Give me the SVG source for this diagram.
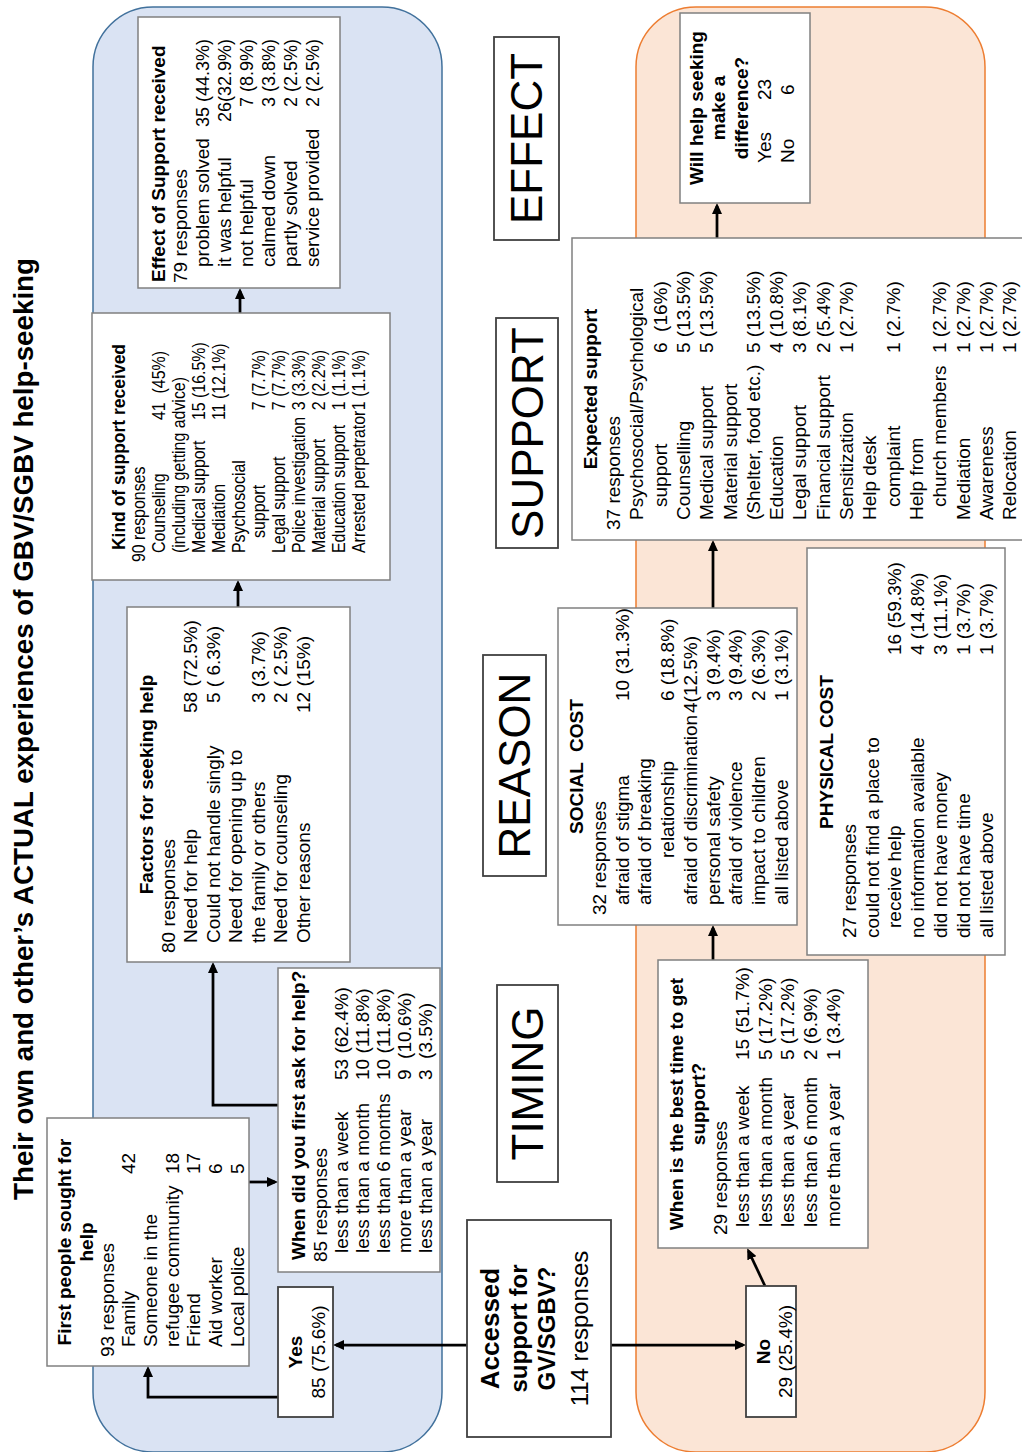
<svg xmlns="http://www.w3.org/2000/svg" width="1022" height="1452" viewBox="0 0 1022 1452">
<style>
  text { font-family: "Liberation Sans", Arial, sans-serif; fill: #000; }
  .t { font-size: 19px; }
  .s { font-size: 17.5px; }
  .sb { font-size: 17.5px; font-weight: bold; }
  .v18 { font-size: 18px; text-anchor: end; }
  .b { font-weight: bold; }
  .c { text-anchor: middle; }
  .box { fill: #fff; stroke: #808080; stroke-width: 1.5; }
  .dbox { fill: #fff; stroke: #404040; stroke-width: 1.8; }
  .lbl { font-size: 44px; text-anchor: middle; }
  .con { fill: none; stroke: #000; stroke-width: 2.75; marker-end: url(#ah); }
</style>
<defs>
  <marker id="ah" markerUnits="userSpaceOnUse" markerWidth="12" markerHeight="10" refX="8" refY="5" orient="auto">
    <path d="M0,0 L11,5 L0,10 z" fill="#000"/>
  </marker>
</defs>
<rect width="1022" height="1452" fill="#fff"/>
<!-- whole chart is laid out landscape and turned a quarter turn -->
<g transform="translate(0,1452) rotate(-90)">
  <!-- panels -->
  <rect id="panel-accessed" x="0" y="93" width="1445" height="349" rx="60" fill="#dae3f3" stroke="#41719c" stroke-width="1.5"/>
  <rect id="panel-not-accessed" x="0" y="636" width="1445" height="349" rx="60" fill="#fbe5d6" stroke="#ed7d31" stroke-width="1.5"/>

  <text x="252" y="33" font-size="27.5" font-weight="bold" textLength="942" lengthAdjust="spacingAndGlyphs">Their own and other’s ACTUAL experiences of GBV/SGBV help-seeking</text>

  <!-- stage labels -->
  <g id="lbl-timing"><rect x="270" y="497" width="197" height="61" class="dbox"/><text x="368.5" y="543" class="lbl">TIMING</text></g>
  <g id="lbl-reason"><rect x="576" y="483" width="221" height="63" class="dbox"/><text x="686.5" y="530" class="lbl">REASON</text></g>
  <g id="lbl-support"><rect x="904" y="496" width="230" height="62" class="dbox"/><text x="1019" y="543" class="lbl">SUPPORT</text></g>
  <g id="lbl-effect"><rect x="1212" y="494" width="203" height="65" class="dbox"/><text x="1313.5" y="542" class="lbl">EFFECT</text></g>

  <!-- connectors -->
  <g id="connectors">
    <path class="con" d="M107,467 L107,336"/>
    <path class="con" d="M107,611 L107,743"/>
    <path class="con" d="M55,278 L55,148 L83,148"/>
    <path class="con" d="M270,249 L270,275"/>
    <path class="con" d="M347,278 L347,213 L487,213"/>
    <path class="con" d="M845,238 L869,238"/>
    <path class="con" d="M1139,240 L1161,240"/>
    <path class="con" d="M166,765 L201,748.5"/>
    <path class="con" d="M492,713 L524,713"/>
    <path class="con" d="M844,713 L909,713"/>
    <path class="con" d="M1214,717 L1246,717"/>
  </g>

  <g id="accessed">
    <rect x="15" y="467" width="217" height="144" class="dbox"/>
    <text class="b c" font-size="26"><tspan x="123.5" y="499">Accessed</tspan></text>
    <text class="b c" font-size="24"><tspan x="123.5" y="527">support for</tspan><tspan x="123.5" y="555">GV/SGBV?</tspan></text>
    <text class="c" font-size="24"><tspan x="123.5" y="588">114 responses</tspan></text>
  </g>

  <g id="yes">
    <rect x="35" y="278" width="130" height="55" class="dbox"/>
    <text class="t c"><tspan x="100" y="302" font-weight="bold">Yes</tspan><tspan x="100" y="325">85 (75.6%)</tspan></text>
  </g>

  <g id="no">
    <rect x="35" y="746" width="131" height="50" class="dbox"/>
    <text class="t c"><tspan x="100.5" y="770" font-weight="bold">No</tspan><tspan x="100.5" y="792">29 (25.4%)</tspan></text>
  </g>

  <g id="first-people">
    <rect x="86" y="47" width="248" height="202" class="box"/>
    <text class="t b c"><tspan x="210" y="71">First people sought for</tspan><tspan x="210" y="93">help</tspan></text>
    <text class="t">
      <tspan x="95" y="114">93 responses</tspan>
      <tspan x="105" y="135">Family</tspan><tspan x="278" y="135">42</tspan>
      <tspan x="105" y="157">Someone in the</tspan>
      <tspan x="105" y="179">refugee community</tspan><tspan x="278" y="179">18</tspan>
      <tspan x="105" y="200">Friend</tspan><tspan x="278" y="200">17</tspan>
      <tspan x="105" y="222">Aid worker</tspan><tspan x="278" y="222">6</tspan>
      <tspan x="105" y="244">Local police</tspan><tspan x="278" y="244">5</tspan>
    </text>
  </g>

  <g id="first-ask">
    <rect x="180" y="278" width="304" height="162" class="box"/>
    <text class="t b"><tspan x="192" y="305">When did you first ask for help?</tspan></text>
    <text class="t" xml:space="preserve"><tspan x="190" y="327">85 responses</tspan><tspan x="199" y="348">less than a week</tspan><tspan x="372" y="348">53 (62.4%)</tspan><tspan x="199" y="369">less than a month</tspan><tspan x="372" y="369">10 (11.8%)</tspan><tspan x="199" y="390">less than 6 months</tspan><tspan x="372" y="390">10 (11.8%)</tspan><tspan x="199" y="411">more than a year</tspan><tspan x="372" y="411">9  (10.6%)</tspan><tspan x="199" y="432">less than a year</tspan><tspan x="372" y="432">3  (3.5%)</tspan></text>
  </g>

  <g id="factors">
    <rect x="490" y="127" width="355" height="223" class="box"/>
    <text class="t b c"><tspan x="667.5" y="153">Factors for seeking help</tspan></text>
    <text class="t"><tspan x="499" y="175">80 responses</tspan><tspan x="509" y="197">Need for help</tspan><tspan x="739" y="197">58 (72.5%)</tspan><tspan x="509" y="220">Could not handle singly</tspan><tspan x="749" y="220">5 ( 6.3%)</tspan><tspan x="509" y="242">Need for opening up to</tspan><tspan x="509" y="265">the family or others</tspan><tspan x="749" y="265">3 (3.7%)</tspan><tspan x="509" y="287">Need for counseling</tspan><tspan x="749" y="287">2 ( 2.5%)</tspan><tspan x="509" y="310">Other reasons</tspan><tspan x="739" y="310">12 (15%)</tspan></text>
  </g>

  <g id="kind-of-support">
    <rect x="872" y="92" width="267" height="298" class="box"/>
    <text class="sb c"><tspan x="1005" y="125">Kind of support received</tspan></text>
    <!-- body set slightly condensed along the line direction -->
    <g transform="matrix(0.91,0,0,1,80.9,0)">
      <text class="s" xml:space="preserve"><tspan x="889" y="145">90 responses</tspan><tspan x="899" y="165">Counseling</tspan><tspan x="1045.1" y="165">41  (45%)</tspan><tspan x="899" y="185">(including getting advice)</tspan><tspan x="899" y="205">Medical support</tspan><tspan x="1045.1" y="205">15 (16.5%)</tspan><tspan x="899" y="225">Mediation</tspan><tspan x="1045.1" y="225">11 (12.1%)</tspan><tspan x="899" y="245">Psychosocial</tspan><tspan x="915.5" y="265">support</tspan><tspan x="1056" y="265">7 (7.7%)</tspan><tspan x="899" y="285">Legal support</tspan><tspan x="1056" y="285">7 (7.7%)</tspan><tspan x="899" y="305">Police investigation</tspan><tspan x="1056" y="305">3 (3.3%)</tspan><tspan x="899" y="325">Material support</tspan><tspan x="1056" y="325">2 (2.2%)</tspan><tspan x="899" y="345">Education support</tspan><tspan x="1056" y="345">1 (1.1%)</tspan><tspan x="899" y="365">Arrested perpetrator</tspan><tspan x="1056" y="365">1 (1.1%)</tspan></text>
    </g>
  </g>

  <g id="effect-of-support">
    <rect x="1164" y="138" width="271" height="202" class="box"/>
    <text class="t b"><tspan x="1170" y="165">Effect of Support received</tspan></text>
    <text class="t"><tspan x="1169" y="187">79 responses</tspan><tspan x="1185" y="209">problem solved</tspan><tspan x="1185" y="231">it was helpful</tspan><tspan x="1185" y="253">not helpful</tspan><tspan x="1185" y="275">calmed down</tspan><tspan x="1185" y="297">partly solved</tspan><tspan x="1185" y="319">service provided</tspan></text>
    <text class="v18"><tspan x="1413" y="209">35 (44.3%)</tspan><tspan x="1413" y="231">26(32.9%)</tspan><tspan x="1413" y="253">7 (8.9%)</tspan><tspan x="1413" y="275">3 (3.8%)</tspan><tspan x="1413" y="297">2 (2.5%)</tspan><tspan x="1413" y="319">2 (2.5%)</tspan></text>
  </g>

  <g id="best-time">
    <rect x="204" y="658" width="288" height="210" class="box"/>
    <text class="t b c"><tspan x="348" y="683">When is the best time to get</tspan><tspan x="348" y="705">support?</tspan></text>
    <text class="t"><tspan x="217" y="727">29 responses</tspan><tspan x="225" y="749">less than a week</tspan><tspan x="392" y="749">15 (51.7%)</tspan><tspan x="225" y="772">less than a month</tspan><tspan x="392" y="772">5 (17.2%)</tspan><tspan x="225" y="794">less than a year</tspan><tspan x="392" y="794">5 (17.2%)</tspan><tspan x="225" y="817">less than 6 month</tspan><tspan x="392" y="817">2 (6.9%)</tspan><tspan x="225" y="840">more than a year</tspan><tspan x="392" y="840">1 (3.4%)</tspan></text>
  </g>

  <g id="social-cost">
    <rect x="527" y="558" width="317" height="239" class="box"/>
    <text class="t b c" xml:space="preserve"><tspan x="685.5" y="583">SOCIAL  COST</tspan></text>
    <text class="t"><tspan x="537" y="606">32 responses</tspan><tspan x="547" y="629">afraid of stigma</tspan><tspan x="751" y="629">10 (31.3%)</tspan><tspan x="547" y="651">afraid of breaking</tspan><tspan x="594" y="674">relationship</tspan><tspan x="751" y="674">6 (18.8%)</tspan><tspan x="547" y="697">afraid of discrimination</tspan><tspan x="739" y="697">4(12.5%)</tspan><tspan x="547" y="720">personal safety</tspan><tspan x="751" y="720">3 (9.4%)</tspan><tspan x="547" y="742">afraid of violence</tspan><tspan x="751" y="742">3 (9.4%)</tspan><tspan x="547" y="765">impact to children</tspan><tspan x="751" y="765">2 (6.3%)</tspan><tspan x="547" y="788">all listed above</tspan><tspan x="751" y="788">1 (3.1%)</tspan></text>
  </g>

  <g id="physical-cost">
    <rect x="497" y="807" width="407" height="198" class="box"/>
    <text class="t b c"><tspan x="700" y="833">PHYSICAL COST</tspan></text>
    <text class="t"><tspan x="514" y="856">27 responses</tspan><tspan x="514" y="879">could not find a place to</tspan><tspan x="524" y="901">receive help</tspan><tspan x="797" y="901">16 (59.3%)</tspan><tspan x="514" y="924">no information available</tspan><tspan x="797" y="924">4 (14.8%)</tspan><tspan x="514" y="947">did not have money</tspan><tspan x="797" y="947">3 (11.1%)</tspan><tspan x="514" y="970">did not have time</tspan><tspan x="797" y="970">1 (3.7%)</tspan><tspan x="514" y="993">all listed above</tspan><tspan x="797" y="993">1 (3.7%)</tspan></text>
  </g>

  <g id="expected-support">
    <rect x="912" y="572" width="302" height="460" class="box"/>
    <text class="t b c"><tspan x="1063" y="597">Expected support</tspan></text>
    <text class="t" xml:space="preserve"><tspan x="922" y="620">37 responses</tspan><tspan x="932" y="643">Psychosocial/Psychological</tspan><tspan x="945" y="667">support</tspan><tspan x="1099" y="667">6  (16%)</tspan><tspan x="932" y="690">Counselling</tspan><tspan x="1099" y="690">5 (13.5%)</tspan><tspan x="932" y="713">Medical support</tspan><tspan x="1099" y="713">5 (13.5%)</tspan><tspan x="932" y="737">Material support</tspan><tspan x="932" y="760">(Shelter, food etc.)</tspan><tspan x="1099" y="760">5 (13.5%)</tspan><tspan x="932" y="783">Education</tspan><tspan x="1099" y="783">4 (10.8%)</tspan><tspan x="932" y="806">Legal support</tspan><tspan x="1099" y="806">3 (8.1%)</tspan><tspan x="932" y="830">Financial support</tspan><tspan x="1099" y="830">2 (5.4%)</tspan><tspan x="932" y="853">Sensitization</tspan><tspan x="1099" y="853">1 (2.7%)</tspan><tspan x="932" y="876">Help desk</tspan><tspan x="945" y="900">complaint</tspan><tspan x="1099" y="900">1 (2.7%)</tspan><tspan x="932" y="923">Help from</tspan><tspan x="945" y="946">church members</tspan><tspan x="1099" y="946">1 (2.7%)</tspan><tspan x="932" y="970">Mediation</tspan><tspan x="1099" y="970">1 (2.7%)</tspan><tspan x="932" y="993">Awareness</tspan><tspan x="1099" y="993">1 (2.7%)</tspan><tspan x="932" y="1016">Relocation</tspan><tspan x="1099" y="1016">1 (2.7%)</tspan></text>
  </g>

  <g id="make-difference">
    <rect x="1249" y="680" width="190" height="130" class="box"/>
    <text class="t b c"><tspan x="1344" y="703">Will help seeking</tspan><tspan x="1344" y="725">make a</tspan><tspan x="1344" y="748">difference?</tspan></text>
    <text class="t"><tspan x="1289" y="771">Yes</tspan><tspan x="1352" y="771">23</tspan><tspan x="1289" y="794">No</tspan><tspan x="1357" y="794">6</tspan></text>
  </g>
</g>
</svg>
